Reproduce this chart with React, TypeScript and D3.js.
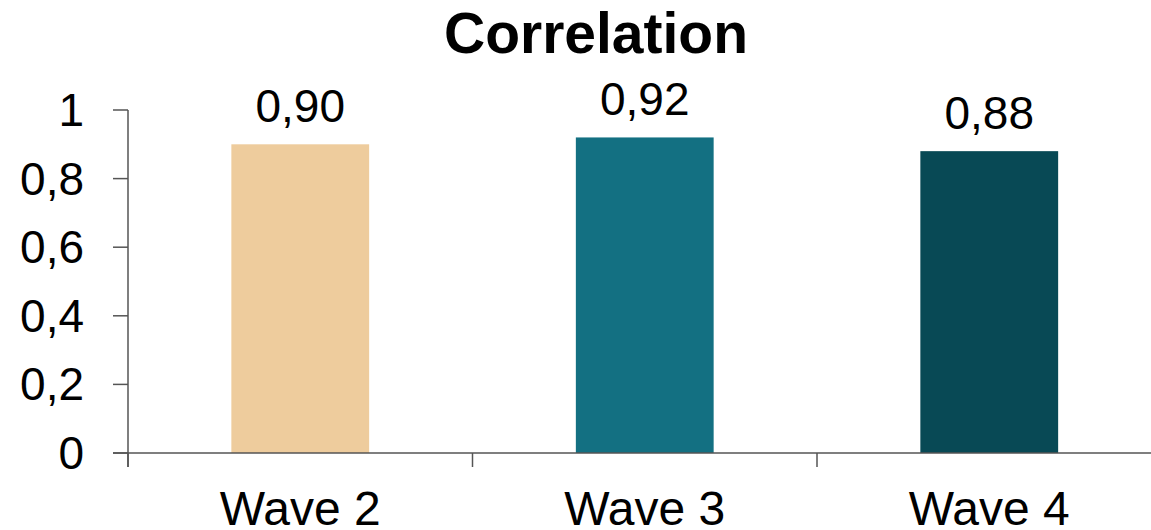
import React from "react";
import * as d3 from "d3";

const categories = ["Wave 2", "Wave 3", "Wave 4"];
const values = [0.9, 0.92, 0.88];
const valueLabels = ["0,90", "0,92", "0,88"];
const colors = ["#EECC9D", "#137082", "#084955"];
const yTicks = [0, 0.2, 0.4, 0.6, 0.8, 1];
const title = "Correlation";

const W = 1151;
const H = 530;

export default function App() {
  const x = d3
    .scaleBand<string>()
    .domain(categories)
    .range([128, 128 + 3 * 344.5])
    .paddingInner(0.6)
    .paddingOuter(0.3);
  const y = d3.scaleLinear().domain([0, 1]).range([453, 110]);
  const fmt = (v: number) => (v === 0 || v === 1 ? String(v) : d3.format(".1f")(v).replace(".", ","));
  const step = x.step();
  const bounds = categories.map((_, i) => 128 + i * step);
  const font = "'Liberation Sans', Arial, sans-serif";
  const axisColor = "#555555";

  return (
    <svg
      width={W}
      height={H}
      style={{ position: "absolute", left: 0, top: 0, background: "#fff" }}
      fontFamily={font}
    >
      <text x={596} y={53} textAnchor="middle" fontSize={57} fontWeight="bold" fill="#000">
        {title}
      </text>
      {categories.map((c, i) => (
        <rect
          key={c}
          x={x(c)!}
          y={y(values[i])}
          width={x.bandwidth()}
          height={y(0) - y(values[i])}
          fill={colors[i]}
        />
      ))}
      {categories.map((c, i) => (
        <text
          key={c + "l"}
          x={x(c)! + x.bandwidth() / 2}
          y={y(values[i]) - 22}
          textAnchor="middle"
          fontSize={46}
          fill="#000"
        >
          {valueLabels[i]}
        </text>
      ))}
      {/* y axis */}
      <line x1={128} x2={128} y1={y(1)} y2={467} stroke={axisColor} strokeWidth={1.5} />
      {yTicks.map((t) => (
        <g key={t}>
          <line x1={113} x2={128} y1={y(t)} y2={y(t)} stroke={axisColor} strokeWidth={1.5} />
          <text x={84} y={y(t) + 16} textAnchor="end" fontSize={46} fill="#000">
            {fmt(t)}
          </text>
        </g>
      ))}
      {/* x axis */}
      <line x1={113} x2={W} y1={y(0)} y2={y(0)} stroke={axisColor} strokeWidth={1.5} />
      {bounds.map((b) => (
        <line key={b} x1={b} x2={b} y1={y(0)} y2={467} stroke={axisColor} strokeWidth={1.5} />
      ))}
      {categories.map((c) => (
        <text
          key={c + "c"}
          x={x(c)! + x.bandwidth() / 2}
          y={525}
          textAnchor="middle"
          fontSize={48}
          fill="#000"
        >
          {c}
        </text>
      ))}
    </svg>
  );
}
